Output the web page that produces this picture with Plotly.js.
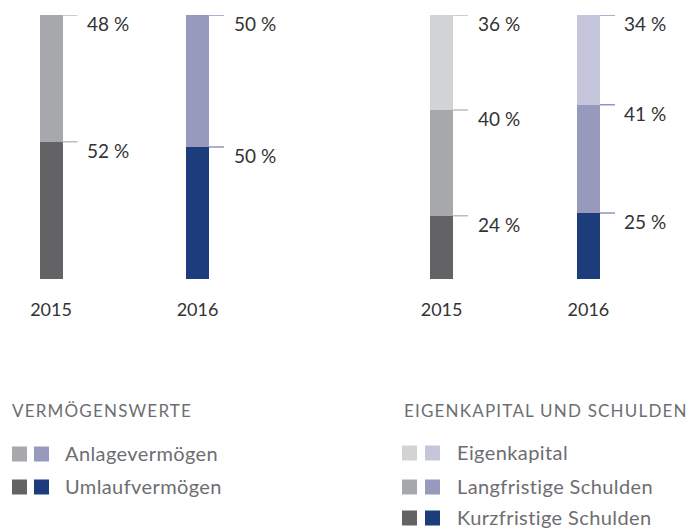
<!DOCTYPE html>
<html>
<head>
<meta charset="utf-8">
<script src="https://cdn.plot.ly/plotly-3.0.1.min.js"></script>
<style>html,body{margin:0;padding:0;background:#fff;}#chart{width:690px;height:530px;}</style>
</head>
<body>
<div id="chart"></div>
<script>
// ---- data ----
const years = ['2015', '2016'];
const anlagevermoegen = [48, 50];
const umlaufvermoegen = [52, 50];
const eigenkapital = [36, 34];
const langfristigeSchulden = [40, 41];
const kurzfristigeSchulden = [24, 25];
const leftTitle = 'VERMÖGENSWERTE';
const rightTitle = 'EIGENKAPITAL UND SCHULDEN';
const leftLegend = ['Anlagevermögen', 'Umlaufvermögen'];
const rightLegend = ['Eigenkapital', 'Langfristige Schulden', 'Kurzfristige Schulden'];

// ---- styles ----
const W = 690, H = 530;
const FONT = 'Lato, "Open Sans", sans-serif';
const light = ['#d2d3d5', '#c5c6dc'];
const mid = ['#a7a8ab', '#9799bd'];
const dark = ['#636365', '#1d3c7c'];
const tickCol = ['#bcbdc0', '#8f95c2'];
const BW = 0.157;           // bar width in category units
const PX = 146.5;           // px per category unit
const TICK = 15 / PX;

function pxX(p) { return p / W; }
function pxY(p) { return 1 - p / H; }

const yDom = [pxY(279), pxY(15)];
const xDom1 = [pxX(51 - 0.3 * PX), pxX(197.5 + 0.3 * PX)];
const xDom2 = [pxX(441.5 - 0.3 * PX), pxX(588.5 + 0.3 * PX)];

const idx = years.map((_, i) => i);
function bar(vals, colors, xa, ya) {
  return {type: 'bar', x: idx, y: vals, width: BW, xaxis: xa, yaxis: ya,
    marker: {color: colors, line: {width: 0}}, hoverinfo: 'skip', showlegend: false};
}

const traces = [
  bar(umlaufvermoegen, dark, 'x', 'y'),
  bar(anlagevermoegen, mid, 'x', 'y'),
  bar(kurzfristigeSchulden, dark, 'x2', 'y2'),
  bar(langfristigeSchulden, mid, 'x2', 'y2'),
  bar(eigenkapital, light, 'x2', 'y2'),
];

const shapes = [];
const annotations = [];
function segLabels(stack, xa, ya) {
  idx.forEach(i => {
    let cum = 0;
    stack.forEach(series => {
      cum += series[i];
      shapes.push({type: 'line', xref: xa, yref: ya, x0: i + BW / 2, x1: i + BW / 2 + TICK,
        y0: cum, y1: cum, line: {color: tickCol[i], width: 1.5}});
      annotations.push({xref: xa, yref: ya, x: i, y: cum, xshift: 34, yshift: 5, xanchor: 'left', yanchor: 'top',
        text: series[i] + ' %', showarrow: false, font: {family: FONT, size: 19, color: '#333'}});
    });
  });
}
segLabels([umlaufvermoegen, anlagevermoegen], 'x', 'y');
segLabels([kurzfristigeSchulden, langfristigeSchulden, eigenkapital], 'x2', 'y2');

// legend blocks
function legendBlock(title, names, colorSets, x0, sqX, textX, titleY, rowYs) {
  annotations.push({xref: 'paper', yref: 'paper', x: pxX(x0), y: pxY(titleY), xanchor: 'left', yanchor: 'middle',
    text: '<span style="letter-spacing:1.2px">' + title + '</span>', showarrow: false,
    font: {family: FONT, size: 17, color: '#6d6e71'}});
  names.forEach((n, r) => {
    const cy = rowYs[r];
    colorSets[r].forEach((c, k) => {
      shapes.push({type: 'rect', xref: 'paper', yref: 'paper', x0: pxX(sqX[k]), x1: pxX(sqX[k] + 15),
        y0: pxY(cy + 7.5), y1: pxY(cy - 7.5), fillcolor: c, line: {width: 0}});
    });
    annotations.push({xref: 'paper', yref: 'paper', x: pxX(textX), y: pxY(cy - 1), xanchor: 'left', yanchor: 'middle',
      borderpad: 0, text: '<span style="letter-spacing:0.4px">' + n + '</span>', showarrow: false,
      font: {family: FONT, size: 20, color: '#6d6e71'}});
  });
}
legendBlock(leftTitle, leftLegend, [mid, dark], 10, [12, 34], 64, 410, [454, 487]);
legendBlock(rightTitle, rightLegend, [light, mid, dark], 402, [402, 425], 456, 410, [453, 487, 518]);

const xCommon = {type: 'linear', range: [-0.3, 1.3], tickmode: 'array', tickvals: idx, ticktext: years,
  showgrid: false, zeroline: false, showline: false, ticks: '', ticklabelstandoff: 18,
  tickfont: {family: FONT, size: 18, color: '#333'}, fixedrange: true};
const yCommon = {range: [0, 100], visible: false, showgrid: false, zeroline: false, fixedrange: true};

const layout = {
  width: W, height: H, margin: {l: 0, r: 0, t: 0, b: 0},
  paper_bgcolor: '#fff', plot_bgcolor: 'rgba(0,0,0,0)',
  barmode: 'stack', showlegend: false,
  xaxis: Object.assign({domain: xDom1, anchor: 'y'}, xCommon),
  yaxis: Object.assign({domain: yDom, anchor: 'x'}, yCommon),
  xaxis2: Object.assign({domain: xDom2, anchor: 'y2'}, xCommon),
  yaxis2: Object.assign({domain: yDom, anchor: 'x2'}, yCommon),
  shapes: shapes, annotations: annotations,
  font: {family: FONT}
};
Plotly.newPlot('chart', traces, layout, {displayModeBar: false, staticPlot: true});
</script>
</body>
</html>
